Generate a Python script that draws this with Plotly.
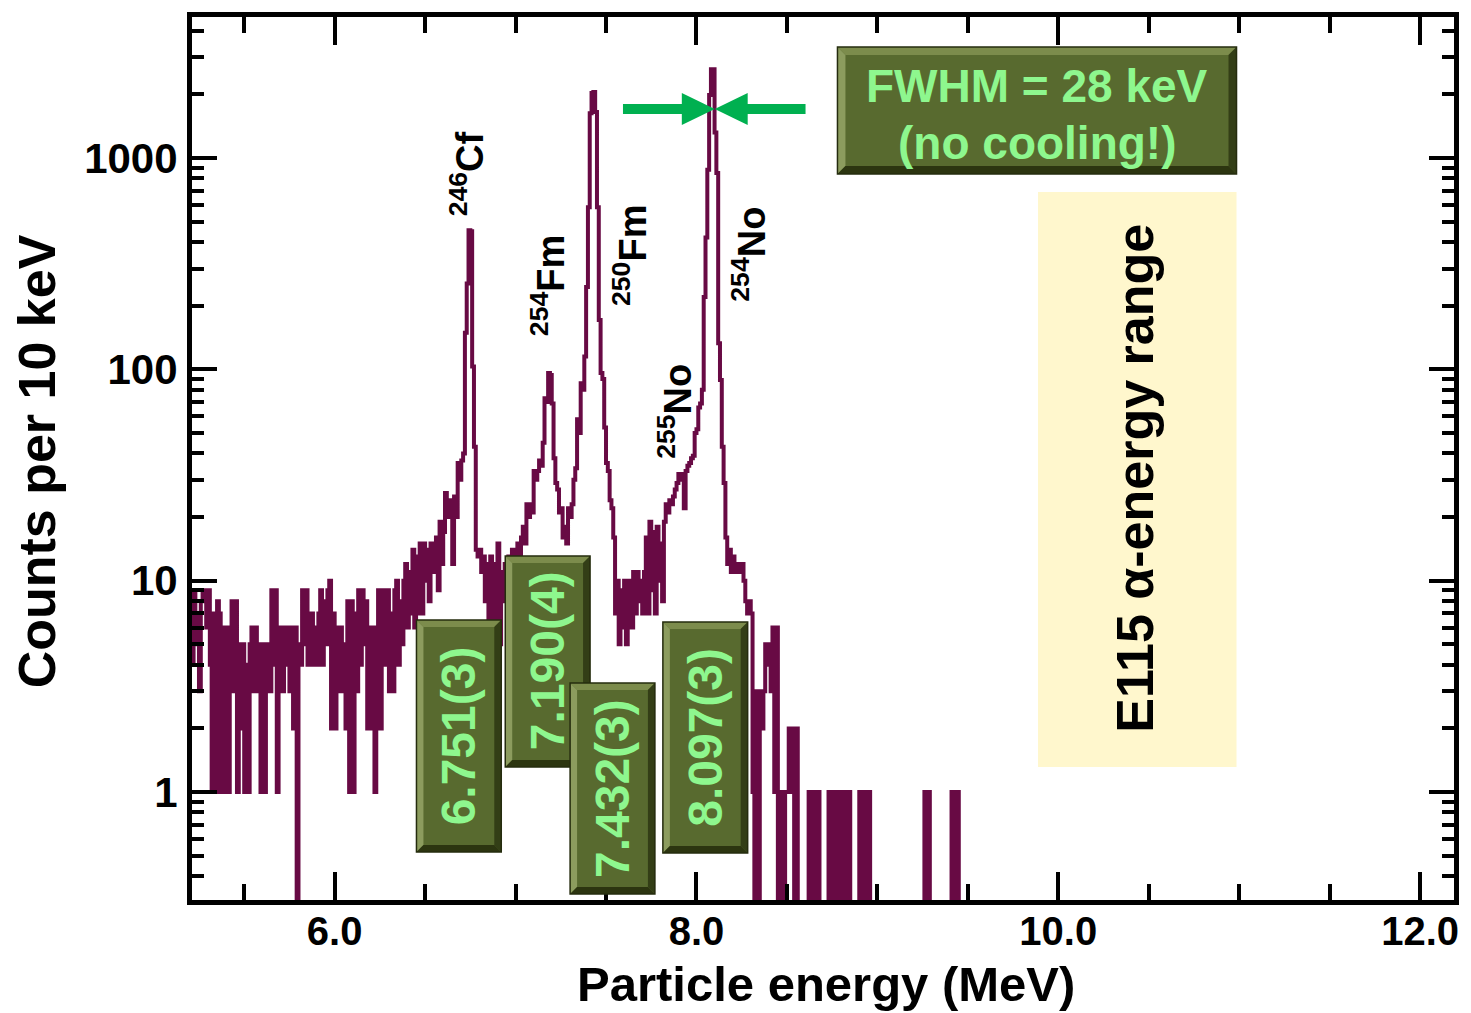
import numpy as np
import plotly.graph_objects as go

# ---------------------------------------------------------------------------
# Alpha spectrum: counts per 10 keV bin, first bin starts at 5.20 MeV
# ---------------------------------------------------------------------------
bin_start = 5.20   # MeV
bin_width = 0.01   # MeV (10 keV)

counts = [
    # 5.20 - 5.99 MeV
    6, 4, 9, 5, 7, 3, 8, 9, 9, 6, 9, 4, 1, 7, 1, 8,
    7, 1, 6, 1, 6, 1, 4, 8, 3, 8, 1, 5, 2, 5, 1, 4,
    1, 5, 6, 3, 6, 3, 5, 1, 5, 1, 4, 5, 3, 9, 4, 9,
    1, 6, 6, 3, 6, 4, 6, 3, 6, 2, 6, 0, 5, 4, 9, 5,
    9, 4, 7, 7, 4, 6, 4, 7, 9, 4, 8, 5, 9, 10, 2, 7,
    # 6.00 - 6.43 MeV
    2, 6, 3, 6, 3, 5, 2, 8, 1, 8, 1, 7, 3, 9, 4, 9,
    5, 8, 2, 6, 2, 6, 1, 5, 9, 2, 9, 4, 8, 9, 3, 7,
    3, 9, 10, 4, 8, 5, 10, 12, 6, 11, 7, 14,
    # 6.44 - 6.91 MeV (246Cf)
    6, 13, 7, 15, 7, 15, 10, 14, 8, 15, 11, 13, 16, 9, 19, 12,
    17, 26, 20, 24, 22, 12, 25, 20, 36, 30, 37, 40, 149, 255, 455, 450,
    103, 43, 14, 13, 14, 11, 13, 8, 12, 6, 13, 4, 12, 3, 15, 5,
    # 6.92 - 7.34 MeV (254Fm)
    11, 8, 12, 9, 13, 10, 14, 11, 12, 15, 13, 16, 18, 15, 23, 20,
    23, 21, 33, 30, 33, 37, 35, 45, 73, 70, 96, 94, 69, 38, 29, 27,
    21, 22, 16, 18, 15, 22, 20, 23, 30, 34, 58,
    # 7.35 - 7.62 MeV (250Fm)
    50, 86, 80, 115, 245, 585, 1630, 2030, 2050, 1650, 585, 171, 96, 90, 53, 36,
    33, 24, 22, 16, 7, 10, 5, 9, 6, 10, 5, 8,
    # 7.63 - 7.82 MeV
    10, 6, 11, 7, 11, 8, 10, 7, 11, 16, 7, 19, 9, 17, 7, 18,
    10, 15, 8, 19,
    # 7.83 - 8.09 MeV (255No, 254No)
    23, 21, 24, 23, 25, 27, 29, 32, 30, 32, 22, 33, 35, 36, 38, 39,
    50, 52, 66, 69, 80, 220, 420, 880, 1985, 2630, 2630,
    # 8.10 - 8.49 MeV
    1320, 850, 133, 89, 43, 29, 16, 12, 14, 11, 13, 12, 11, 12, 11, 12,
    10, 8, 7, 8, 7, 1, 0, 3, 0, 3, 2, 3, 5, 4, 5, 3,
    6, 1, 6, 0, 1, 1, 0, 1,
    # 8.50 - 9.30 MeV
    1, 2, 1, 2, 0, 2, 0, 0, 0, 0, 0, 0, 1, 0, 1, 1,
    0, 1, 0, 0, 0, 0, 0, 1, 0, 1, 0, 1, 0, 1, 0, 1,
    0, 1, 1, 0, 0, 0, 0, 0, 1, 0, 1, 0, 1, 1, 0, 0,
    0, 0, 0, 0, 0, 0, 0, 0, 0, 0, 0, 0, 0, 0, 0, 0,
    0, 0, 0, 0, 0, 0, 0, 0, 0, 0, 0, 0, 1, 0, 1, 0,
    # 9.31 - 9.50 MeV
    0, 0, 0, 0, 0, 0, 0, 0, 0, 0, 0, 1, 0, 1, 1, 0,
    0, 0, 0, 0, 0, 0, 0, 0, 0, 0,
]

# Peak energies (MeV) quoted in the boxes
peak_labels = ["6.751(3)", "7.190(4)", "7.432(3)", "8.097(3)"]

# Isotope names shown next to the peaks
isotopes = ["<sup>246</sup>Cf", "<sup>254</sup>Fm", "<sup>250</sup>Fm",
            "<sup>255</sup>No", "<sup>254</sup>No"]

x_ticks = [6.0, 8.0, 10.0, 12.0]
x_ticktext = ["6.0", "8.0", "10.0", "12.0"]
x_minor = [5.5, 6.5, 7.0, 7.5, 8.5, 9.0, 9.5, 10.5, 11.0, 11.5]
y_ticks = [1, 10, 100, 1000]
y_ticktext = ["1", "10", "100", "1000"]
y_minor = [m * 10.0 ** d for d in range(-1, 4) for m in range(2, 10)]

# ---------------------------------------------------------------------------
# Geometry of the figure (pixels) and helpers for paper coordinates
# ---------------------------------------------------------------------------
W, H = 1471, 1013
ML, MR, MT, MB = 192, 14, 17, 113
PW, PH = W - ML - MR, H - MT - MB


def px(x):
    return (x - ML) / PW


def py(y):
    return (H - MB - y) / PH


FONT = "Liberation Sans, Arial, Helvetica, sans-serif"
LINE_COLOR = "#680a44"
BOX_FILL = "#586a2f"
BOX_TEXT = "#8ef78e"
ARROW = "#00b050"

# Step histogram (zero bins drop below the axis floor)
counts_arr = np.array(counts, dtype=float)
edges = bin_start + bin_width * np.arange(len(counts_arr) + 1)
floor = 1e-2
y_plot = np.where(counts_arr > 0, counts_arr, floor)
y_plot = np.append(y_plot, y_plot[-1])

fig = go.Figure()
fig.add_trace(go.Scatter(
    x=edges, y=y_plot, mode="lines",
    line=dict(color=LINE_COLOR, width=4, shape="hv"),
    hoverinfo="skip", showlegend=False,
))

shapes = []


def rect(x0, y0, x1, y1, color, layer="above"):
    shapes.append(dict(type="rect", xref="paper", yref="paper",
                       x0=px(x0), x1=px(x1), y0=py(y1), y1=py(y0),
                       fillcolor=color, line=dict(width=0), layer=layer))


def poly(points, color):
    path = "M " + " L ".join(f"{px(a):.5f},{py(b):.5f}" for a, b in points) + " Z"
    shapes.append(dict(type="path", xref="paper", yref="paper", path=path,
                       fillcolor=color, line=dict(width=0), layer="above"))


def bevel_box(x0, y0, x1, y1, b=7):
    rect(x0, y0, x1, y1, BOX_FILL)
    poly([(x0, y0), (x1, y0), (x1 - b, y0 + b), (x0 + b, y0 + b)], "#7c8c4c")
    poly([(x0, y0), (x0 + b, y0 + b), (x0 + b, y1 - b), (x0, y1)], "#8c9c5e")
    poly([(x1, y0), (x1, y1), (x1 - b, y1 - b), (x1 - b, y0 + b)], "#333e16")
    poly([(x0, y1), (x1, y1), (x1 - b, y1 - b), (x0 + b, y1 - b)], "#2c3510")
    shapes.append(dict(type="rect", xref="paper", yref="paper",
                       x0=px(x0), x1=px(x1), y0=py(y1), y1=py(y0),
                       fillcolor="rgba(0,0,0,0)",
                       line=dict(color="#252c0e", width=1.5), layer="above"))


# Shaded energy range expected for element 115
rect(1040, 192, 1239, 767, "#fff7cd", layer="below")

# Peak-energy boxes
peak_boxes = [(417, 620, 502, 852), (506, 556, 591, 767),
              (571, 683, 656, 894), (664, 622, 749, 853)]
for (x0, y0, x1, y1) in peak_boxes:
    bevel_box(x0, y0, x1, y1)

# FWHM box
bevel_box(839, 47, 1239, 174, b=8)

# FWHM arrows pointing at the 254No peak
rect(624, 104, 688, 114, ARROW)
poly([(683, 93), (683, 125), (716, 109)], ARROW)
rect(744, 104, 807, 114, ARROW)
poly([(749, 93), (749, 125), (716, 109)], ARROW)

annotations = []


def label(text, x, y, size, color="black", angle=0):
    annotations.append(dict(
        text=text, xref="paper", yref="paper", x=px(x), y=py(y),
        xanchor="center", yanchor="middle", showarrow=False,
        textangle=angle,
        font=dict(family=FONT, size=size, color=color, weight="bold"),
    ))


# Isotope labels
iso_pos = [(468, 174), (549, 286), (631, 255), (676, 411), (750, 254)]
for txt, (x, y) in zip(isotopes, iso_pos):
    label(txt, x, y, 38, angle=-90)

# Peak energies
peak_text_pos = [(459, 736), (548, 661), (613, 789), (706, 737)]
for txt, (x, y) in zip(peak_labels, peak_text_pos):
    label(txt, x, y, 48, color=BOX_TEXT, angle=-90)

label("FWHM = 28 keV", 1039, 86, 46, color=BOX_TEXT)
label("(no cooling!)", 1039, 143, 46, color=BOX_TEXT)
label("E115 \u03b1-energy range", 1137, 478, 52, angle=-90)

# Axis titles
label("Particle energy (MeV)", 828, 984, 49)
label("Counts per 10 keV", 37, 461, 52, angle=-90)

axis_common = dict(
    ticks="inside", tickcolor="black", tickwidth=4,
    showline=True, linecolor="black", linewidth=5, mirror="allticks",
    showgrid=False, zeroline=False,
)

fig.update_layout(
    width=W, height=H,
    margin=dict(l=ML, r=MR, t=MT, b=MB),
    paper_bgcolor="white", plot_bgcolor="white",
    showlegend=False,
    shapes=shapes,
    annotations=annotations,
    xaxis=dict(
        range=[5.2114, 12.1875],
        tickvals=x_ticks, ticktext=x_ticktext, ticklen=28,
        ticklabelstandoff=-8,
        tickfont=dict(family=FONT, size=40, color="black", weight="bold"),
        minor=dict(tickvals=x_minor, ticks="inside", ticklen=16,
                   tickwidth=4, tickcolor="black", showgrid=False),
        **axis_common,
    ),
    yaxis=dict(
        type="log",
        range=[-0.5110, 3.6672],
        tickvals=y_ticks, ticktext=y_ticktext, ticklen=25,
        ticklabelstandoff=1,
        tickfont=dict(family=FONT, size=42, color="black", weight="bold"),
        minor=dict(tickvals=y_minor, ticks="inside", ticklen=12,
                   tickwidth=4, tickcolor="black", showgrid=False),
        **axis_common,
    ),
)

fig.write_html("out.html")
